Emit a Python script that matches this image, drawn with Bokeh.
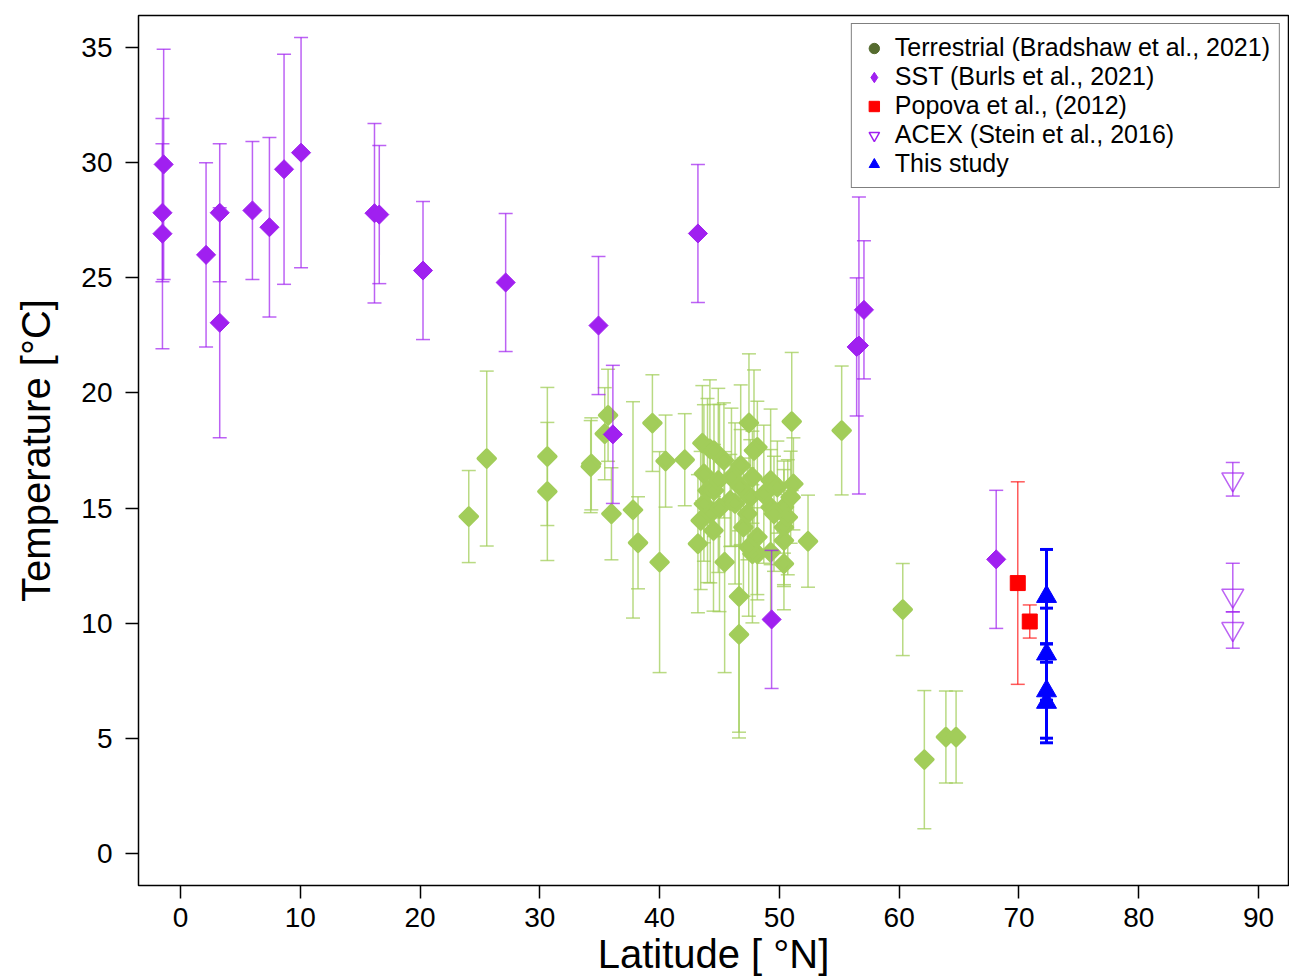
import numpy as np
from bokeh.plotting import figure
from bokeh.models import Range1d, FixedTicker, Legend, LegendItem
from bokeh.embed import file_html
from bokeh.resources import INLINE

# ---------------- data ----------------
x_ticks = [0, 10, 20, 30, 40, 50, 60, 70, 80, 90]
y_ticks = [0, 5, 10, 15, 20, 25, 30, 35]

# Terrestrial (Bradshaw et al., 2021)
terr_lat = [24.07, 25.57, 30.63, 30.63, 34.3, 34.25, 35.7, 35.42, 35.98, 37.78,
            38.2, 39.4, 40.0, 40.5, 42.1, 43.57, 44.2, 45.37, 43.2, 45.43,
            46.63, 46.63, 47.46, 46.77, 51.03, 52.39, 49.27, 51.17, 50.38, 48.16,
            44.23, 44.5, 45.9, 47.57, 47.0, 48.16, 50.38, 50.38, 50.38, 43.7,
            44.0, 43.7, 43.43, 44.54, 46.77, 47.33, 47.75, 47.88, 48.16, 47.75,
            49.27, 50.94, 46.0, 44.54, 49.83, 49.55, 49.27, 47.44, 45.0, 46.3,
            48.7, 44.9, 50.7, 55.2, 60.3, 62.1, 63.9, 64.75]
terr_temp = [14.63, 17.15, 17.24, 15.72, 16.92, 16.8, 19.03, 18.23, 14.75, 14.92,
             13.49, 18.69, 12.65, 17.04, 17.1, 17.82, 17.57, 17.07, 13.45, 12.65,
             11.16, 9.51, 18.7, 16.85, 18.76, 13.56, 16.2, 16.05, 12.58, 17.64,
             14.75, 14.02, 15.33, 15.47, 14.17, 13.01, 15.04, 14.17, 13.59, 16.49,
             15.76, 15.19, 14.46, 15.76, 15.91, 14.75, 16.34, 17.5, 13.74, 13.01,
             15.04, 15.47, 16.34, 17.5, 15.91, 14.75, 13.08, 13.3, 15.0, 15.2,
             15.6, 16.2, 14.6, 18.37, 10.59, 4.07, 5.05, 5.05]
terr_err = [2.0, 3.8, 3.0, 3.0, 2.0, 2.0, 2.0, 2.0, 2.0, 4.7,
            2.0, 2.1, 4.8, 2.0, 2.0, 2.5, 3.0, 2.5, 3.0, 4.8,
            5.9, 4.5, 3.0, 3.5, 3.0, 2.0, 3.1, 2.0, 2.0, 2.0,
            3.0, 3.5, 2.0, 2.5, 3.0, 2.0, 2.0, 2.5, 2.0, 3.0,
            4.0, 2.5, 3.0, 2.0, 2.5, 2.0, 2.0, 3.5, 2.5, 3.0,
            2.5, 2.0, 3.0, 2.0, 2.0, 2.5, 3.0, 3.0, 4.5, 3.5,
            3.0, 4.0, 2.5, 2.8, 2.0, 3.0, 2.0, 2.0]

# SST (Burls et al., 2021)
sst_lat = [-1.4, -1.5, -1.5, 2.14, 3.28, 3.28, 6.01, 7.43, 8.65, 10.07,
           16.2, 16.6, 20.25, 27.15, 34.9, 36.1, 43.2, 49.35, 57.06, 56.64,
           56.45, 68.1]
sst_temp = [29.93, 27.83, 26.92, 26.0, 27.83, 23.05, 27.93, 27.2, 29.72, 30.44,
            27.81, 27.75, 25.32, 24.8, 22.93, 18.2, 26.93, 10.16, 23.61, 22.06,
            22.0, 12.77]
sst_err = [5.0, 3.0, 5.0, 4.0, 3.0, 5.0, 3.0, 3.9, 5.0, 5.0,
           3.9, 3.0, 3.0, 3.0, 3.0, 3.0, 3.0, 3.0, 3.0, 6.45,
           3.0, 3.0]

# Popova et al. (2012)
pop_lat = [69.9, 70.9]
pop_temp = [11.74, 10.07]
pop_err = [4.4, 0.72]

# ACEX (Stein et al., 2016)
acex_lat = [87.85, 87.85, 87.85]
acex_temp = [16.25, 11.2, 9.75]
acex_lower = [15.52, 10.49, 8.91]
acex_upper = [16.98, 12.6, 10.49]

# This study
this_lat = [72.3, 72.3, 72.3, 72.3]
this_temp = [11.15, 8.65, 7.05, 6.55]
this_err = [2.05, 2.0, 2.05, 1.75]

# ---------------- figure ----------------
FONT = "Liberation Sans"
p = figure(width=1289, height=978, output_backend="svg", toolbar_location=None,
           x_range=Range1d(-3.5, 92.5), y_range=Range1d(-1.4, 36.4),
           min_border_left=138, min_border_right=1, min_border_top=15,
           min_border_bottom=93)
p.xgrid.visible = False
p.ygrid.visible = False
p.outline_line_color = "black"
p.outline_line_width = 1.5
p.background_fill_color = "white"
p.border_fill_color = "white"


def errbars(lat, lo, hi, color, alpha, width, cap=14):
    p.segment(x0=lat, y0=lo, x1=lat, y1=hi, line_color=color,
              line_alpha=alpha, line_width=width)
    p.scatter(x=lat + lat, y=list(lo) + list(hi), marker="dash", size=cap,
              line_color=color, line_alpha=alpha, line_width=width)


GREEN = "#A2CD5A"
PURPLE = "#A020F0"

# Terrestrial
t_lo = [t - e for t, e in zip(terr_temp, terr_err)]
t_hi = [t + e for t, e in zip(terr_temp, terr_err)]
errbars(terr_lat, t_lo, t_hi, GREEN, 0.75, 1.5)
p.scatter(x=terr_lat, y=terr_temp, marker="square", angle=np.pi / 4, size=12,
          fill_color=GREEN, line_color=GREEN, line_width=3.5, line_join="round")

# SST
s_lo = [t - e for t, e in zip(sst_temp, sst_err)]
s_hi = [t + e for t, e in zip(sst_temp, sst_err)]
errbars(sst_lat, s_lo, s_hi, PURPLE, 0.7, 1.5)
p.scatter(x=sst_lat, y=sst_temp, marker="square", angle=np.pi / 4, size=13.5,
          fill_color=PURPLE, line_color=PURPLE, line_width=1)

# Popova
p_lo = [t - e for t, e in zip(pop_temp, pop_err)]
p_hi = [t + e for t, e in zip(pop_temp, pop_err)]
errbars(pop_lat, p_lo, p_hi, "#FF0000", 0.65, 1.5)
p.scatter(x=pop_lat, y=pop_temp, marker="square", size=15,
          fill_color="#FF0000", line_color="#FF0000")

# ACEX
errbars(acex_lat, acex_lower, acex_upper, PURPLE, 0.7, 1.5)
p.scatter(x=acex_lat, y=acex_temp, marker="inverted_triangle", size=22,
          fill_color=None, line_color=PURPLE, line_alpha=0.7, line_width=1.5)

# This study
b_lo = [t - e for t, e in zip(this_temp, this_err)]
b_hi = [t + e for t, e in zip(this_temp, this_err)]
errbars(this_lat, b_lo, b_hi, "#0000FF", 1.0, 3, cap=13)
p.scatter(x=this_lat, y=this_temp, marker="triangle", size=20,
          fill_color="#0000FF", line_color="#0000FF")

# ---------------- axes ----------------
for ax in (p.xaxis[0], p.yaxis[0]):
    ax.major_label_text_font = FONT
    ax.major_label_text_font_size = "28px"
    ax.major_label_text_color = "black"
    ax.major_tick_out = 13
    ax.major_tick_in = 0
    ax.major_tick_line_color = "black"
    ax.major_tick_line_width = 1.5
    ax.minor_tick_line_color = None
    ax.axis_line_color = None
    ax.axis_label_text_font = FONT
    ax.axis_label_text_font_style = "normal"
    ax.axis_label_text_color = "black"
    ax.axis_label_text_font_size = "40px"

p.xaxis.ticker = FixedTicker(ticks=x_ticks)
p.yaxis.ticker = FixedTicker(ticks=y_ticks)
p.xaxis.major_label_standoff = 9
p.yaxis.major_label_standoff = 13
p.xaxis.axis_label = "Latitude [ \u00b0N]"
p.yaxis.axis_label = "Temperature [\u00b0C]"
p.xaxis.axis_label_standoff = 2
p.yaxis.axis_label_standoff = 20

# ---------------- legend ----------------
nan = [float("nan")]
lg_terr = p.scatter(x=nan, y=nan, marker="circle", fill_color="#556B2F", line_color="#556B2F")
lg_sst = p.scatter(x=nan, y=nan, marker="diamond", fill_color=PURPLE, line_color=PURPLE)
lg_pop = p.scatter(x=nan, y=nan, marker="square", fill_color="#FF0000", line_color="#FF0000")
lg_acex = p.scatter(x=nan, y=nan, marker="inverted_triangle", fill_color=None,
                    line_color=PURPLE, line_width=1.5)
lg_this = p.scatter(x=nan, y=nan, marker="triangle", fill_color="#0000FF", line_color="#0000FF")

legend = Legend(items=[
    LegendItem(label="Terrestrial (Bradshaw et al., 2021)", renderers=[lg_terr]),
    LegendItem(label="SST (Burls et al., 2021)", renderers=[lg_sst]),
    LegendItem(label="Popova et al., (2012)", renderers=[lg_pop]),
    LegendItem(label="ACEX (Stein et al., 2016)", renderers=[lg_acex]),
    LegendItem(label="This study", renderers=[lg_this]),
], location="top_right")
legend.label_text_font = FONT
legend.label_text_font_size = "25px"
legend.label_text_color = "black"
legend.glyph_width = 26
legend.glyph_height = 26
legend.label_height = 26
legend.label_standoff = 8
legend.label_width = 372
legend.padding = 9
legend.spacing = 0
legend.margin = 8
legend.border_line_color = "black"
legend.border_line_width = 1.5
legend.background_fill_color = "white"
legend.background_fill_alpha = 1.0
p.add_layout(legend)

open("out.html", "w").write(file_html(p, INLINE))
